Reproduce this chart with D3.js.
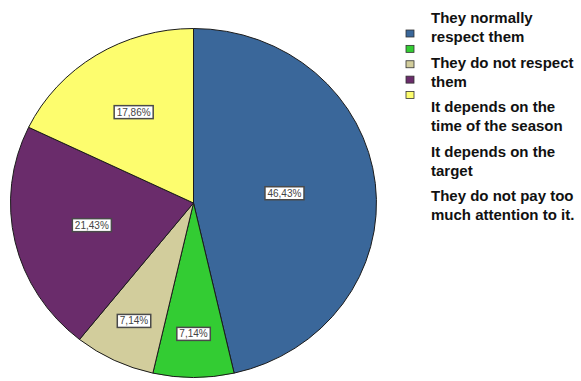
<!DOCTYPE html>
<html lang="en">
<head>
<meta charset="UTF-8">
<title>Pie chart</title>
<script src="https://d3js.org/d3.v7.min.js"></script>
<style>
    body { margin: 0; background: #fff; }
    .legend text { font: bold 15px "Liberation Sans", Arial, sans-serif; fill: #111; }
    .lbl text { font: 10px "Liberation Sans", Arial, sans-serif; fill: #444; }
</style>
</head>
<body>
<svg id="chart" width="581" height="381"></svg>
<script>
    // data
    var categories = ["They normally respect them", "They do not respect them",
        "It depends on the time of the season", "It depends on the target",
        "They do not pay too much attention to it."];
    var values = [46.43, 7.14, 7.14, 21.43, 17.86];
    var colors = ["#3a679a", "#33cc33", "#d2cd9c", "#6a2c6b", "#fdfd6e"];
    var legendLines = [
        ["They normally", "respect them"],
        ["They do not respect", "them"],
        ["It depends on the", "time of the season"],
        ["It depends on the", "target"],
        ["They do not pay too", "much attention to it."]
    ];

    var svg = d3.select("#chart");
    var cx = 193.5, cy = 203, rx = 183, ry = 174.5;

    var pie = d3.pie().sort(null).value(function (d) { return d; });
    var arcs = pie(values);
    var arc = d3.arc().innerRadius(0).outerRadius(1);

    var g = svg.append("g")
        .attr("transform", "translate(" + cx + "," + cy + ") scale(" + rx + "," + ry + ")");

    g.selectAll("path")
        .data(arcs)
        .enter().append("path")
        .attr("d", arc)
        .attr("fill", function (d, i) { return colors[i]; })
        .attr("stroke", "#1b1b1b")
        .attr("stroke-width", 1)
        .attr("vector-effect", "non-scaling-stroke");

    // value labels, smaller slices pushed further out like SPSS does
    var locale = d3.formatLocale({ decimal: ",", thousands: ".", grouping: [3], currency: ["", ""] });
    var fmt = locale.format(".2f");

    var lbl = svg.selectAll(".lbl")
        .data(arcs)
        .enter().append("g")
        .attr("class", "lbl")
        .attr("transform", function (d) {
            var deg = (d.endAngle - d.startAngle) * 180 / Math.PI;
            var f = Math.max(0.5, 0.84 - 0.0035 * deg);
            var c = d3.arc().innerRadius(f).outerRadius(f).centroid(d);
            return "translate(" + (cx + c[0] * rx) + "," + (cy + c[1] * ry) + ")";
        });

    lbl.append("text")
        .attr("text-anchor", "middle")
        .attr("dy", "0.35em")
        .text(function (d) { return fmt(d.data) + "%"; });

    lbl.each(function () {
        var t = d3.select(this).select("text");
        var b = t.node().getBBox();
        d3.select(this).insert("rect", "text")
            .attr("x", b.x - 2.5)
            .attr("y", b.y - 1)
            .attr("width", b.width + 5)
            .attr("height", b.height + 2)
            .attr("fill", "#fff")
            .attr("stroke", "#4a4a4a")
            .attr("stroke-width", 1.5);
    });

    // legend
    var legend = svg.append("g").attr("class", "legend");
    var swatchY = d3.scalePoint().domain(categories).range([33.5, 95]);

    legend.selectAll("rect")
        .data(categories)
        .enter().append("rect")
        .attr("x", 406)
        .attr("y", function (d) { return swatchY(d) - 3.5; })
        .attr("width", 8)
        .attr("height", 7)
        .attr("fill", function (d, i) { return colors[i]; })
        .attr("stroke", "#333")
        .attr("stroke-width", 0.8);

    var textY = d3.scaleLinear().domain([0, categories.length - 1]).range([23, 201]);

    legend.selectAll("text")
        .data(legendLines)
        .enter().append("text")
        .attr("x", 431)
        .attr("y", function (d, i) { return textY(i); })
        .selectAll("tspan")
        .data(function (d) { return d; })
        .enter().append("tspan")
        .attr("x", 431)
        .attr("dy", function (d, j) { return j ? 19 : 0; })
        .text(function (d) { return d; });
</script>
</body>
</html>
